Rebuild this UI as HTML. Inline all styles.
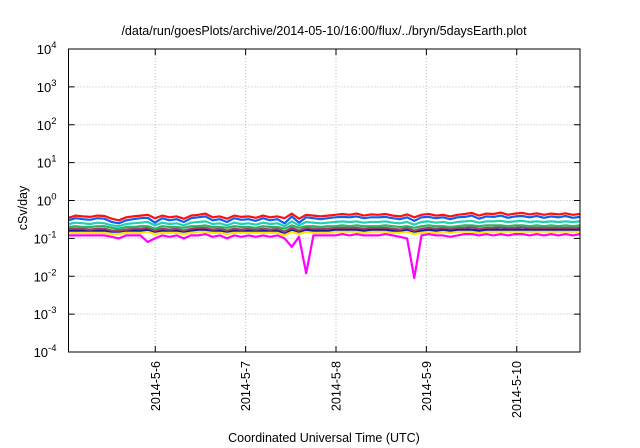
<!DOCTYPE html>
<html><head><meta charset="utf-8"><style>
html,body{margin:0;padding:0;background:#fff;}
svg{display:block;font-family:"Liberation Sans",sans-serif;}
</style></head><body>
<svg id="chart" width="640" height="448" viewBox="0 0 640 448" xmlns="http://www.w3.org/2000/svg">
<text x="324" y="35" font-size="12.5" text-anchor="middle" fill="#000">/data/run/goesPlots/archive/2014-05-10/16:00/flux/../bryn/5daysEarth.plot</text>
<text x="324" y="442" font-size="12.5" text-anchor="middle" fill="#000">Coordinated Universal Time (UTC)</text>
<text x="0" y="0" font-size="12.5" text-anchor="middle" fill="#000" transform="translate(27,208) rotate(-90)">cSv/day</text>
<g id="grid"></g>
<g id="series"></g>
<g id="axes"></g>
</svg>
<script>
const yExponents = [-4,-3,-2,-1,0,1,2,3,4];
const xDayLabels = ["2014-5-6","2014-5-7","2014-5-8","2014-5-9","2014-5-10"];
const xDayValues = [1,2,3,4,5];
const red = [0.35,0.40,0.38,0.37,0.40,0.39,0.33,0.30,0.36,0.38,0.40,0.42,0.34,0.40,0.36,0.38,0.33,0.40,0.42,0.45,0.36,0.38,0.33,0.40,0.37,0.38,0.35,0.40,0.36,0.38,0.34,0.45,0.33,0.42,0.40,0.38,0.40,0.42,0.44,0.42,0.45,0.40,0.43,0.42,0.44,0.40,0.38,0.43,0.36,0.42,0.44,0.40,0.42,0.38,0.42,0.44,0.47,0.40,0.45,0.44,0.48,0.42,0.45,0.47,0.43,0.46,0.42,0.45,0.43,0.46,0.42,0.44];
const blue = [0.30,0.34,0.32,0.31,0.34,0.33,0.27,0.25,0.30,0.32,0.34,0.35,0.26,0.34,0.30,0.32,0.27,0.34,0.36,0.38,0.30,0.32,0.27,0.34,0.31,0.32,0.29,0.34,0.30,0.32,0.25,0.38,0.26,0.36,0.34,0.32,0.34,0.36,0.37,0.36,0.38,0.34,0.36,0.36,0.37,0.34,0.32,0.36,0.29,0.36,0.37,0.34,0.36,0.32,0.36,0.37,0.40,0.33,0.38,0.37,0.40,0.35,0.38,0.39,0.36,0.39,0.35,0.38,0.36,0.39,0.35,0.37];
const teal = [0.24,0.26,0.25,0.24,0.26,0.25,0.22,0.21,0.24,0.25,0.26,0.27,0.22,0.26,0.24,0.25,0.22,0.26,0.27,0.28,0.24,0.25,0.22,0.26,0.24,0.25,0.23,0.26,0.24,0.25,0.21,0.28,0.22,0.27,0.26,0.25,0.26,0.27,0.28,0.27,0.28,0.26,0.27,0.27,0.28,0.26,0.25,0.27,0.23,0.27,0.28,0.26,0.27,0.25,0.27,0.28,0.29,0.26,0.28,0.28,0.29,0.27,0.28,0.29,0.27,0.28,0.27,0.28,0.27,0.28,0.27,0.28];
const green = [0.20,0.21,0.20,0.20,0.21,0.21,0.19,0.18,0.20,0.20,0.21,0.21,0.18,0.21,0.20,0.20,0.19,0.21,0.21,0.22,0.20,0.20,0.19,0.21,0.20,0.20,0.19,0.21,0.20,0.20,0.18,0.22,0.19,0.21,0.21,0.20,0.21,0.21,0.22,0.21,0.22,0.21,0.21,0.21,0.22,0.21,0.20,0.21,0.19,0.21,0.22,0.21,0.21,0.20,0.21,0.22,0.22,0.21,0.22,0.22,0.22,0.21,0.22,0.22,0.21,0.22,0.21,0.22,0.21,0.22,0.21,0.22];
const purple = [0.18,0.18,0.18,0.17,0.18,0.18,0.16,0.16,0.17,0.18,0.18,0.19,0.16,0.18,0.17,0.18,0.16,0.18,0.19,0.19,0.17,0.18,0.16,0.18,0.17,0.18,0.17,0.18,0.17,0.18,0.15,0.19,0.16,0.19,0.18,0.18,0.18,0.19,0.19,0.19,0.19,0.18,0.19,0.19,0.19,0.18,0.17,0.19,0.16,0.18,0.19,0.18,0.19,0.18,0.19,0.19,0.20,0.18,0.19,0.19,0.20,0.19,0.19,0.20,0.19,0.19,0.19,0.19,0.19,0.19,0.19,0.19];
const navy = [0.16,0.16,0.16,0.16,0.16,0.16,0.15,0.15,0.16,0.16,0.16,0.17,0.15,0.16,0.16,0.16,0.15,0.16,0.17,0.17,0.16,0.16,0.15,0.16,0.16,0.16,0.16,0.16,0.16,0.16,0.14,0.17,0.15,0.17,0.16,0.16,0.16,0.17,0.17,0.17,0.17,0.16,0.17,0.17,0.17,0.16,0.16,0.17,0.15,0.16,0.17,0.16,0.17,0.16,0.17,0.17,0.17,0.16,0.17,0.17,0.17,0.17,0.17,0.17,0.17,0.17,0.17,0.17,0.17,0.17,0.17,0.17];
const yellow = [0.14,0.14,0.14,0.14,0.14,0.14,0.13,0.13,0.14,0.14,0.14,0.15,0.13,0.14,0.14,0.14,0.13,0.14,0.15,0.15,0.14,0.14,0.13,0.14,0.14,0.14,0.14,0.14,0.14,0.14,0.12,0.15,0.13,0.15,0.14,0.14,0.14,0.15,0.15,0.15,0.15,0.14,0.15,0.15,0.15,0.14,0.14,0.15,0.13,0.14,0.15,0.14,0.15,0.14,0.15,0.15,0.15,0.14,0.15,0.15,0.15,0.15,0.15,0.15,0.15,0.15,0.15,0.15,0.15,0.15,0.15,0.15];
const magenta = [0.12,0.12,0.12,0.12,0.12,0.12,0.11,0.10,0.12,0.12,0.12,0.08,0.10,0.12,0.11,0.12,0.10,0.12,0.12,0.13,0.11,0.12,0.10,0.12,0.11,0.12,0.11,0.12,0.11,0.12,0.10,0.06,0.11,0.012,0.12,0.12,0.12,0.12,0.13,0.12,0.13,0.12,0.12,0.12,0.13,0.12,0.11,0.10,0.009,0.12,0.13,0.12,0.12,0.11,0.12,0.13,0.13,0.12,0.13,0.12,0.13,0.12,0.13,0.13,0.12,0.13,0.12,0.13,0.12,0.13,0.12,0.13];

const L=68.5,R=580,T=49,B=352;
const tStart=0.04,tEnd=5.70;
function xs(t){return L+(t-tStart)/(tEnd-tStart)*(R-L);}
function ys(v){return B-(Math.log10(v)+4)/8*(B-T);}
function xi(i,n){return xs(tStart+i*(tEnd-tStart)/(n-1));}
const NS="http://www.w3.org/2000/svg";
function mk(tag,parent){const e=document.createElementNS(NS,tag);parent.appendChild(e);return e;}
const grid=document.getElementById('grid'),axes=document.getElementById('axes'),sg=document.getElementById('series');

yExponents.forEach(function(p){
  const y=ys(Math.pow(10,p));
  if(p>-4&&p<4){
    const g=mk('line',grid);
    
    
    g.setAttribute('x1',L);g.setAttribute('x2',R);g.setAttribute('y1',y);g.setAttribute('y2',y);
    g.setAttribute('stroke','#bbb');g.setAttribute('stroke-dasharray','1,2');g.setAttribute('stroke-width','1');
  }
  const t1=mk('line',axes);
  
  
  t1.setAttribute('x1',L);t1.setAttribute('x2',L+6);t1.setAttribute('y1',y);t1.setAttribute('y2',y);t1.setAttribute('stroke','#000');
  const t2=mk('line',axes);
  
  
  t2.setAttribute('x1',R-6);t2.setAttribute('x2',R);t2.setAttribute('y1',y);t2.setAttribute('y2',y);t2.setAttribute('stroke','#000');
  const tx=mk('text',axes);
  
  
  tx.setAttribute('x',L-12);tx.setAttribute('y',y+5);tx.setAttribute('font-size','13');tx.setAttribute('text-anchor','end');
  tx.innerHTML='10<tspan dy="-6" font-size="9.5">'+p+'</tspan>';
});
xDayValues.forEach(function(d,i){
  const x=xs(d);
  const g=mk('line',grid);
  
  
  g.setAttribute('x1',x);g.setAttribute('x2',x);g.setAttribute('y1',T);g.setAttribute('y2',B);
  g.setAttribute('stroke','#bbb');g.setAttribute('stroke-dasharray','1,2');
  const t1=mk('line',axes);
  
  
  t1.setAttribute('x1',x);t1.setAttribute('x2',x);t1.setAttribute('y1',B-6);t1.setAttribute('y2',B);t1.setAttribute('stroke','#000');
  const t2=mk('line',axes);
  
  
  t2.setAttribute('x1',x);t2.setAttribute('x2',x);t2.setAttribute('y1',T);t2.setAttribute('y2',T+6);t2.setAttribute('stroke','#000');
  const tx=mk('text',axes);
  
  
  tx.setAttribute('font-size','12.5');tx.setAttribute('text-anchor','end');
  tx.setAttribute('transform','translate('+(x+4.5)+','+(B+9)+') rotate(-90)');
  tx.textContent=xDayLabels[i];
});
const seriesList=[[magenta,'#ff00ff','series-magenta'],[yellow,'#ffe400','series-yellow'],[navy,'#1a1aa0','series-navy'],[purple,'#a0406a','series-purple'],[green,'#30b060','series-green'],[teal,'#20d0b0','series-teal'],[red,'#ff1010','series-red'],[blue,'#1060f0','series-blue']];
seriesList.forEach(function(s){
  const arr=s[0];
  const p=mk('polyline',sg);
  
  
  p.setAttribute('points',arr.map(function(v,i){return xi(i,arr.length).toFixed(1)+','+ys(v).toFixed(1);}).join(' '));
  p.setAttribute('fill','none');p.setAttribute('stroke',s[1]);p.setAttribute('stroke-width','2.2');p.setAttribute('stroke-linejoin','round');
});
const fr=mk('rect',axes);


fr.setAttribute('x',L);fr.setAttribute('y',T);fr.setAttribute('width',R-L);fr.setAttribute('height',B-T);
fr.setAttribute('fill','none');fr.setAttribute('stroke','#000');fr.setAttribute('stroke-width','1');
</script>
</body></html>
